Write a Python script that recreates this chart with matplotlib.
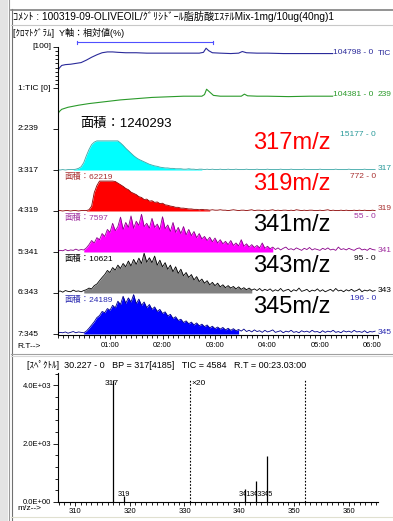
import numpy as np
import matplotlib
matplotlib.use("Agg")
import matplotlib.pyplot as plt
from matplotlib.patches import Rectangle
from matplotlib.ticker import MultipleLocator, FixedLocator

plt.rcParams['font.family'] = ['Liberation Sans', 'Noto Sans CJK JP', 'DejaVu Sans']

W, H = 393, 521

# ============================================================
#  data
# ============================================================
COMMENT = "ｺﾒﾝﾄ : 100319-09-OLIVEOIL/ｸﾞﾘｼﾄﾞｰﾙ脂肪酸ｴｽﾃﾙMix-1mg/10ug(40ng)1"
CHROM_TITLE = "[ｸﾛﾏﾄｸﾞﾗﾑ]  Y軸：相対値(%)"
SPEC_TITLE = "[ｽﾍﾟｸﾄﾙ]  30.227 - 0   BP = 317[4185]   TIC = 4584   R.T = 00:23.03:00"

# TIC trace (min, relative %)
tic_t = [0.00, 0.03, 0.08, 0.15, 0.25, 0.35, 0.45, 0.55, 0.65, 0.75,
         0.85, 0.95, 1.05, 1.15, 1.30, 1.50, 1.70, 1.90, 2.10, 2.30,
         2.50, 2.70, 2.78, 2.83, 2.88, 2.95, 3.10, 3.30, 3.45, 3.52,
         3.60, 3.80, 4.00, 4.30, 4.60, 4.90, 5.24]
tic_v = [38, 48, 55, 57, 58, 60, 62, 68, 75, 81,
         86, 88, 88, 87, 86, 86, 85, 85, 85, 85,
         85, 85, 87, 97, 91, 86, 85, 84, 85, 89,
         86, 85, 85, 84, 84, 84, 84]

# m/z 239 trace
g_t = [0.00, 0.03, 0.08, 0.20, 0.40, 0.60, 0.80, 1.00, 1.20, 1.40,
       1.60, 1.80, 2.00, 2.20, 2.40, 2.60, 2.75, 2.80, 2.84, 2.90,
       2.97, 3.10, 3.30, 3.50, 3.56, 3.62, 3.80, 4.00, 4.40, 4.80, 5.24]
g_v = [33, 42, 48, 53, 58, 62, 65, 68, 71, 73,
       75, 77, 78, 79, 80, 80, 80, 84, 97, 90,
       82, 80, 80, 80, 85, 81, 80, 80, 79, 80, 80]

# SIM channels, sampled every 0.05 min (relative % of lane height)
grid_t = np.round(np.arange(0, 6.06, 0.05), 2)

mz317 = [0, 0, 1, 0, 1, 1, 1, 2,
         4, 8, 18, 35, 50, 62, 68, 71,
         71, 71, 71, 71, 71, 71, 71, 71,
         66, 60, 53, 47, 41, 35, 30, 26,
         23, 20, 17, 14, 12, 10, 9, 7,
         6, 5, 5, 4, 4, 3, 3, 3,
         2, 2, 3, 2, 2, 1, 2, 2, 1, 2,
         1, 2, 1, 1, 2, 1, 1, 2, 1, 1,
         2, 1, 1, 1, 2, 1, 1, 1, 2, 1,
         1, 1, 2, 1, 1, 1, 1, 2, 1, 1,
         1, 2, 1, 1, 1, 1, 2, 1, 1, 1,
         1, 1, 2, 1, 1, 1, 1, 1, 2, 1,
         1, 1, 1, 2, 1, 1, 1, 1, 1, 2,
         1, 1, 1, 1]

mz319 = [1, 1, 0, 1, 1, 0, 1, 1, 0, 1, 1, 1,
         3, 12, 45, 62, 73,
         73, 73, 73, 73, 73,
         72, 68, 64, 60, 55, 52, 46, 43, 40, 35,
         33, 28, 29, 24, 25, 21, 22, 18, 19, 15,
         14, 12, 11, 9, 9, 7, 7, 6, 5, 5,
         4, 4, 3, 4, 3, 3, 2, 3, 2, 2,
         3, 2, 2, 1, 2, 3, 2, 1, 2, 2,
         1, 2, 3, 1, 2, 2, 1, 2, 1, 2,
         3, 1, 2, 1, 2, 2, 1, 2, 1, 3,
         2, 1, 2, 1, 2, 2, 1, 1, 2, 1,
         2, 3, 1, 2, 1, 1, 2, 1, 2, 1,
         1, 2, 1, 2, 1, 2, 1, 1, 2, 1]

mz341 = [2, 4, 3, 6, 3, 5, 4, 7, 4, 6, 5,
         10, 18, 28, 22, 35, 30, 45, 38, 55, 48,
         70, 52, 62, 85, 55, 72, 60, 88, 58, 75,
         65, 92, 62, 70, 58, 82, 60, 68, 55, 86,
         57, 66, 50, 72, 48, 60, 45, 62, 42, 55,
         40, 50, 35, 45, 32, 38, 28, 36, 25, 34,
         22, 30, 20, 26, 18, 28, 16, 22, 15, 30,
         14, 20, 12, 18, 11, 16, 10, 22, 9, 14,
         8, 12, 6, 10, 5, 9, 12, 6, 8, 5,
         10, 7, 4, 9, 6, 11, 5, 8, 6, 4,
         9, 6, 10, 5, 7, 4, 12, 6, 8, 5,
         9, 6, 4, 8, 10, 5, 7, 4, 9, 6, 5]

mz343 = [3, 5, 2, 6, 4, 3, 7, 4, 5, 3, 6,
         8, 12, 10, 18, 22, 30, 38, 45, 55, 50,
         62, 56, 68, 60, 72, 64, 78, 66, 82, 70,
         85, 72, 97, 75, 86, 74, 90, 68, 80, 64,
         74, 58, 68, 52, 64, 48, 58, 42, 50, 38,
         45, 32, 40, 28, 34, 24, 30, 20, 26, 18,
         24, 15, 20, 13, 18, 12, 16, 10, 15, 9,
         13, 8, 12, 7, 10, 6, 11, 5, 9, 6,
         10, 4, 8, 5, 11, 4, 7, 9, 3, 8,
         5, 12, 4, 6, 9, 3, 7, 5, 10, 4,
         8, 3, 6, 9, 4, 11, 5, 7, 3, 8,
         5, 9, 4, 6, 10, 3, 7, 5, 8, 4, 6]

mz345 = [2, 4, 3, 5, 2, 4, 6, 3, 5, 4, 3,
         7, 14, 22, 30, 40, 45, 55, 52, 62, 58,
         70, 64, 80, 72, 92, 75, 88, 78, 96, 74,
         85, 70, 78, 64, 72, 60, 66, 55, 60, 50,
         54, 44, 48, 38, 42, 33, 36, 28, 32, 25,
         29, 22, 27, 20, 24, 18, 22, 15, 19, 13,
         17, 12, 16, 10, 14, 9, 13, 8, 11, 7,
         12, 6, 9, 5, 10, 6, 8, 4, 9, 5,
         7, 10, 4, 6, 8, 3, 7, 5, 9, 4,
         6, 3, 8, 5, 7, 4, 9, 5, 6, 3,
         8, 4, 7, 5, 9, 4, 6, 3, 8, 5,
         7, 4, 9, 5, 6, 4, 8, 3, 6, 5, 7]

LANE_NAMES = ["1:TIC [0]", "2:239", "3:317", "4:319", "5:341", "6:343", "7:345"]
LANE_TAGS = ["TIC", "239", "317", "319", "341", "343", "345"]
LANE_MAX = ["104798 - 0", "104381 - 0", "15177 - 0", "772 - 0", "55 - 0", "95 - 0", "196 - 0"]
AREAS = [1240293, 62219, 7597, 10621, 24189]
MZ_TAGS = ["317m/z", "319m/z", "341m/z", "343m/z", "345m/z"]
AREA_WINDOWS = [(0.30, 2.75), (0.55, 2.90), (0.48, 4.10), (0.50, 3.72), (0.50, 3.48)]
BRACKET = (0.38, 2.97)
TIME_LABELS = ["01:00", "02:00", "03:00", "04:00", "05:00", "06:00"]

# mass spectrum at the cursor
spec_mz = [317, 319, 341, 343, 345]
spec_int = [4185, 215, 22, 36, 79]
ZOOM_RANGE = (331, 352)
ZOOM_FACTOR = 20
SPEC_YTICKS = [0, 2000, 4000]
SPEC_YLABELS = ["0.0E+00", "2.0E+03", "4.0E+03"]

# ============================================================
#  styles / layout
# ============================================================
FILL = ['#00ffff', '#ff0000', '#ff00ff', '#808080', '#0000ff']
EDGE = ['#3aa6a6', '#8a0000', '#8a008a', '#000000', '#00008a']
TXT = ['#2a9a9a', '#a83030', '#a030a0', '#000000', '#2828b0']
TAG_COL = ['#ff0000', '#ff0000', '#000000', '#000000', '#000000']
TIC_COL = '#2a2a9a'
G239_COL = '#2a9a2a'

PX_PER_MIN = 52.5
LANE_H = 41
BASES = [88 + LANE_H * i for i in range(7)]


def px(x0, y0, x1, y1):
    return [x0 / W, 1 - y1 / H, (x1 - x0) / W, (y1 - y0) / H]


fig = plt.figure(figsize=(W / 100, H / 100), dpi=100)

# ---- overlay in pixel coordinates for frame + texts ----
ov = fig.add_axes([0, 0, 1, 1], zorder=5)
ov.set_xlim(0, W)
ov.set_ylim(H, 0)
ov.axis('off')
ov.patch.set_alpha(0)

ov.add_patch(Rectangle((0, 0), 8, H, color='#e4e4e4', lw=0))
ov.plot([8.5, 8.5], [0, H], color='#9a9a9a', lw=0.8)
ov.plot([11.5, 11.5], [9, H], color='#707070', lw=0.8)
ov.plot([11, W], [9.5, 9.5], color='#808080', lw=1.2)
ov.plot([11, W], [25, 25], color='#c8c8c8', lw=0.8)
ov.plot([11, W], [353.5, 353.5], color='#a0a0a0', lw=0.8)
ov.plot([11, W], [355.5, 355.5], color='#d8d8d8', lw=0.8)
ov.plot([11, W], [516.5, 516.5], color='#e0e0d0', lw=0.8)

ov.text(13, 17, COMMENT, fontsize=7.3, va='center', ha='left')
ov.text(13, 33, CHROM_TITLE, fontsize=6.5, va='center', ha='left')
ov.text(27, 365, SPEC_TITLE, fontsize=6.5, va='center', ha='left')

# left lane labels
ov.text(51, 47, "[100]", fontsize=6, ha='right', va='center')
for name, b in zip(LANE_NAMES, BASES):
    ov.text(18, b, name, fontsize=6, ha='left', va='center')
ov.text(17, 346, "R.T-->", fontsize=6, ha='left', va='center')
ov.text(17, 509, "m/z-->", fontsize=6, ha='left', va='center')

# right side labels
ov.text(333, 52, LANE_MAX[0], fontsize=6, color=TIC_COL, ha='left', va='center')
ov.text(378, 53.5, LANE_TAGS[0], fontsize=6, color=TIC_COL, ha='left', va='center')
ov.text(333, 95, LANE_MAX[1], fontsize=6, color=G239_COL, ha='left', va='center')
ov.text(378, 95, LANE_TAGS[1], fontsize=6, color=G239_COL, ha='left', va='center')
for i in range(5):
    b = BASES[i + 2]
    ov.text(376, b - 35, LANE_MAX[i + 2], fontsize=6, color=TXT[i], ha='right', va='center')
    ov.text(378, b - 2, LANE_TAGS[i + 2], fontsize=6, color=TXT[i], ha='left', va='center')
    ov.text(253, b - 27, MZ_TAGS[i], fontsize=17, color=TAG_COL[i], ha='left', va='center')
    if i == 0:
        ov.text(80, b - 46.5, f"面積：{AREAS[i]}", fontsize=9.5, ha='left', va='center')
    else:
        ov.text(65, b - 34, f"面積：{AREAS[i]}", fontsize=6, color=TXT[i], ha='left', va='center')

# ---- chromatogram ----
ch = fig.add_axes(px(57.5, 47, 378, 335))
ch.set_xlim(0, (378 - 57.5) / PX_PER_MIN)
ch.set_ylim(335, 47)
for s in ['top', 'right']:
    ch.spines[s].set_visible(False)
for s in ['left', 'bottom']:
    ch.spines[s].set_linewidth(0.8)

ch.plot(tic_t, [BASES[0] - v * LANE_H / 100 for v in tic_v], color=TIC_COL, lw=0.8)
ch.plot(g_t, [BASES[1] - v * LANE_H / 100 for v in g_v], color=G239_COL, lw=0.8)

sims = [mz317, mz319, mz341, mz343, mz345]
for i, vals in enumerate(sims):
    b = BASES[i + 2]
    y = b - np.array(vals) * LANE_H / 100
    a0, a1 = AREA_WINDOWS[i]
    mask = (grid_t >= a0) & (grid_t <= a1)
    ch.fill_between(grid_t, b, y, where=mask, color=FILL[i], lw=0)
    ch.plot(grid_t, y, color=EDGE[i], lw=0.6)

# integration bracket above the TIC
ch.plot([BRACKET[0], BRACKET[1]], [42, 42], color='#5050ff', lw=0.8, clip_on=False)
ch.plot([BRACKET[0], BRACKET[0]], [41, 44], color='#5050ff', lw=0.8, clip_on=False)
ch.plot([BRACKET[1], BRACKET[1]], [41, 44], color='#5050ff', lw=0.8, clip_on=False)

ch.xaxis.set_major_locator(FixedLocator(range(1, 7)))
ch.set_xticklabels(TIME_LABELS)
ch.xaxis.set_minor_locator(MultipleLocator(0.1))
ch.set_yticks([47] + BASES)
ch.set_yticks([47 + LANE_H * k / 10 for k in range(1, 10)], minor=True)
ch.set_yticklabels([])
ch.tick_params(axis='x', which='major', length=3.2, width=0.6, labelsize=5.5, pad=2)
ch.tick_params(axis='x', which='minor', length=2.0, width=0.6)
ch.tick_params(axis='y', which='major', length=3.5, width=0.6)
ch.tick_params(axis='y', which='minor', length=2.0, width=0.6)

# ---- spectrum ----
sp = fig.add_axes(px(58, 373, 378, 502))
Y_SCALE = 122 / 4185
sp.set_xlim(310 - 18 / 5.78, 310 + 320 / 5.78)
sp.set_ylim(0, 129 / Y_SCALE)
for s in ['top', 'right']:
    sp.spines[s].set_visible(False)
for s in ['left', 'bottom']:
    sp.spines[s].set_linewidth(0.8)

disp = [v * ZOOM_FACTOR if ZOOM_RANGE[0] <= m <= ZOOM_RANGE[1] else v
        for m, v in zip(spec_mz, spec_int)]
sp.vlines(spec_mz, 0, disp, color='black', lw=0.9)
for x in ZOOM_RANGE:
    sp.axvline(x, ymin=0, ymax=0.945, color='black', ls=(0, (1.5, 1.5)), lw=0.8)
sp.text(ZOOM_RANGE[0] + 0.3, 0.915, f"×{ZOOM_FACTOR}", transform=sp.get_xaxis_transform(),
        fontsize=6, ha='left', va='center')

sp.text(spec_mz[0] - 0.3, disp[0], str(spec_mz[0]), fontsize=6, ha='center', va='top')
for m, d in zip(spec_mz[1:], disp[1:]):
    sp.text(m, min(d, 150), str(m), fontsize=5.3, ha='center', va='bottom')

sp.xaxis.set_major_locator(MultipleLocator(10))
sp.xaxis.set_minor_locator(MultipleLocator(1))
sp.yaxis.set_major_locator(FixedLocator(SPEC_YTICKS))
sp.set_yticklabels(SPEC_YLABELS)
sp.yaxis.set_minor_locator(MultipleLocator(400))
sp.tick_params(axis='x', which='major', length=3.2, width=0.6, labelsize=5.5, pad=1)
sp.tick_params(axis='x', which='minor', length=2.2, width=0.6)
sp.tick_params(axis='y', which='major', length=3.6, width=0.6, labelsize=5.5, pad=1.5)
sp.tick_params(axis='y', which='minor', length=2.2, width=0.6)

fig.savefig("out.png", dpi=100)
